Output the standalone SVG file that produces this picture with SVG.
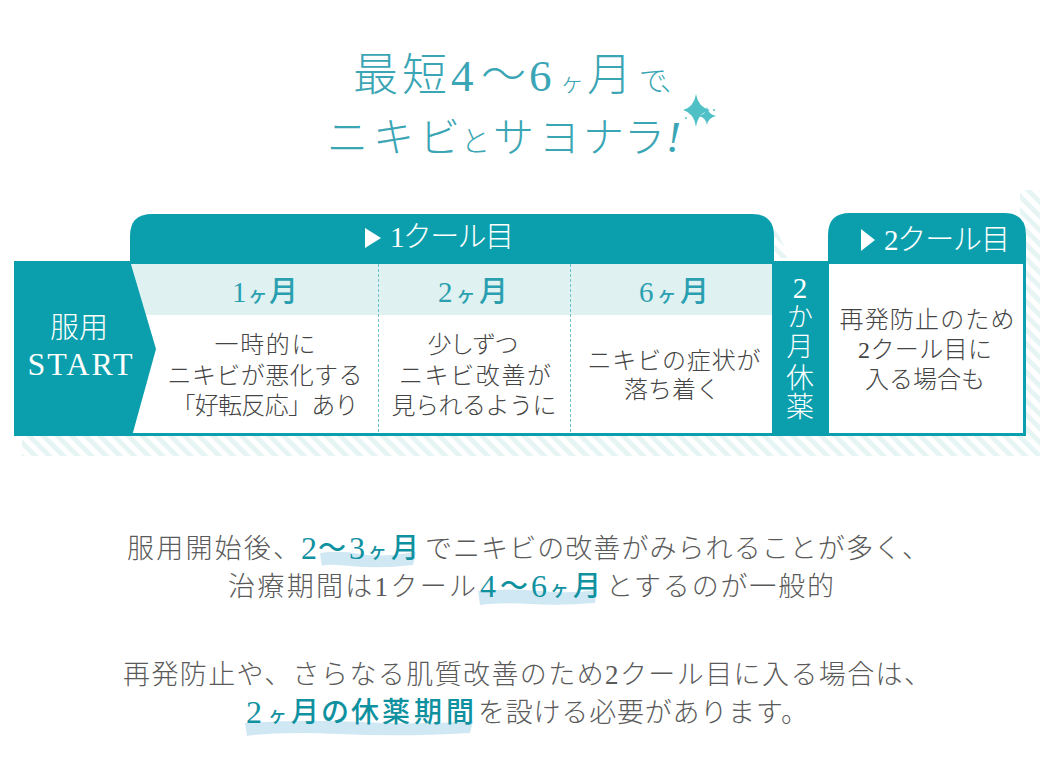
<svg xmlns="http://www.w3.org/2000/svg" width="1040" height="776" viewBox="0 0 1040 776">
<style>
text{font-family:"Liberation Serif","Noto Sans CJK JP",serif;text-anchor:middle;font-weight:300}
.ttl{fill:#3aa5b4;font-size:45px;text-anchor:start}
.kana{font-size:41px}
.wh{fill:#fff}
.tab{font-size:29px}
.mon{fill:#2a9fb0;font-size:29px;font-weight:500}
.cell{fill:#444;font-size:24px}
.body{fill:#5a5a5a;font-size:27px;text-anchor:start}
.em{fill:#10919f;font-size:28px;font-weight:500;text-anchor:start}
.dg{font-size:32px}
.sm{font-size:.68em}
.emk{font-size:19px}
.teal{fill:#0b9fad}
.hl{fill:#cfe8f4}
</style>
<defs>
<pattern id="st" width="10" height="10" patternUnits="userSpaceOnUse" patternTransform="rotate(-45)">
<rect width="10" height="10" fill="#fff"/><rect width="5" height="10" fill="#e6f5f4"/>
</pattern>
</defs>
<rect id="bgw" width="1040" height="776" fill="#fff"/>
<g id="stripes">
<rect x="22" y="430" width="1018" height="26" fill="url(#st)"/>
<rect x="1020" y="190" width="20" height="266" fill="url(#st)"/>
<path d="M774 225L790 258H774Z" fill="url(#st)"/>
</g>
<g id="title">
<text class="ttl" y="91" x="353 402 451 481 529">最短4〜6</text>
<text class="ttl" y="91" x="560" style="font-size:24px">ヶ</text>
<text class="ttl" y="91" x="587">月</text>
<text class="ttl" y="91" x="639 660" style="font-size:28px">で、</text>
<text class="ttl kana" y="152" x="327 373 419">ニキビ</text>
<text class="ttl" y="152" x="461" style="font-size:29px">と</text>
<text class="ttl kana" y="152" x="493 539 583 624">サヨナラ</text>
<text class="ttl" y="152" x="666" font-style="italic">!</text>
<g id="sparkle" fill="#4fc1c6">
<path d="M696 94Q698 107 710 110Q698 113 696 127Q694 113 683 110Q694 107 696 94Z"/>
<path d="M707 107Q708 114 716 116Q708 118 707 125Q706 118 699 116Q706 114 707 107Z"/>
<circle cx="714" cy="110" r="1"/><circle cx="686" cy="118" r="1"/>
</g>
</g>
<g id="tab1"><path class="teal" d="M130 264V236Q130 214 152 214H752Q774 214 774 236V264Z"/>
<path class="wh" d="M365 228L381 238L365 248Z"/>
<text class="wh tab" x="452" y="247" textLength="124">1クール目</text></g>
<g id="tab2"><path class="teal" d="M828 264V235Q828 213 850 213H1004Q1026 213 1026 235V264Z"/>
<path class="wh" d="M861 229L875 240L861 251Z"/>
<text class="wh tab" x="947" y="250" textLength="126">2クール目</text></g>
<g id="frame">
<rect class="teal" x="14" y="261" width="1012" height="175"/>
<rect class="wh" x="130" y="264" width="642" height="169"/>
<rect x="130" y="264" width="642" height="51" fill="#dff1f1"/>
<rect class="wh" x="829" y="264" width="194" height="169"/>
<path d="M378.500 264V433M570.500 264V433" stroke="#6cc3c8" stroke-width="1" stroke-dasharray="3 2" fill="none"/>
</g>
<g id="start"><path class="teal" d="M14 261H130L156 349L132 436H14Z"/>
<text class="wh" x="79" y="338" font-size="29" textLength="58">服用</text>
<text class="wh" x="80" y="375" font-size="32" textLength="105">START</text></g>
<g id="m1"><text class="mon" x="265" y="302" textLength="66">1<tspan class="sm">ヶ</tspan>月</text>
<text class="cell" x="265" y="353" textLength="101">一時的に</text>
<text class="cell" x="265" y="384" textLength="195">ニキビが悪化する</text>
<text class="cell" x="265" y="414" textLength="187">「好転反応」あり</text></g>
<g id="m2"><text class="mon" x="473" y="302" textLength="70">2<tspan class="sm">ヶ</tspan>月</text>
<text class="cell" x="473" y="353" textLength="91">少しずつ</text>
<text class="cell" x="475" y="384" textLength="152">ニキビ改善が</text>
<text class="cell" x="474" y="414" textLength="165">見られるように</text></g>
<g id="m3"><text class="mon" x="674" y="302" textLength="70">6<tspan class="sm">ヶ</tspan>月</text>
<text class="cell" x="674" y="369" textLength="173">ニキビの症状が</text>
<text class="cell" x="672" y="398" textLength="96">落ち着く</text></g>
<g id="rest">
<text class="wh" x="800" y="298" font-size="29">2</text>
<text class="wh" x="800" y="326" font-size="26">か</text>
<text class="wh" x="800" y="356" font-size="27">月</text>
<text class="wh" x="800" y="388" font-size="28">休</text>
<text class="wh" x="800" y="417" font-size="28">薬</text>
</g>
<g id="c2"><text class="cell" x="927" y="328" textLength="175">再発防止のため</text>
<text class="cell" x="925" y="358" textLength="134">2クール目に</text>
<text class="cell" x="925" y="388" textLength="120">入る場合も</text></g>
<g id="highlights">
<path class="hl" d="M320 553Q340 550 360 554T416 552L413 565Q380 569 350 566T322 567Z"/>
<path class="hl" d="M478 591Q510 588 540 591T597 590L595 603Q560 606 530 604T480 605Z"/>
<path class="hl" d="M245 723Q300 719 360 722T473 721L470 733Q400 737 340 734T247 736Z"/>
</g>
<g id="para1">
<text class="body" x="127" y="558" textLength="173">服用開始後、</text>
<text class="em dg" x="301" y="559">2</text>
<text class="em" x="318" y="558">〜</text>
<text class="em dg" x="349" y="559">3</text>
<text class="em emk" x="368" y="558">ヶ</text>
<text class="em" x="391" y="558">月</text>
<text class="body" x="425" y="558" textLength="504">でニキビの改善がみられることが多く、</text>
<text class="body" x="228" y="596" textLength="248">治療期間は1クール</text>
<text class="em dg" x="480" y="597">4</text>
<text class="em" x="500" y="596">〜</text>
<text class="em dg" x="531" y="597">6</text>
<text class="em emk" x="550" y="596">ヶ</text>
<text class="em" x="573" y="596">月</text>
<text class="body" x="606" y="596" textLength="228">とするのが一般的</text>
</g>
<g id="para2">
<text class="body" x="123" y="684" textLength="808">再発防止や、さらなる肌質改善のため2クール目に入る場合は、</text>
<text class="em dg" x="246" y="723">2</text>
<text class="em emk" x="268" y="722">ヶ</text>
<text class="em" x="291 321 351 382 414 446" y="722">月の休薬期間</text>
<text class="body" x="478" y="722" textLength="330">を設ける必要があります。</text>
</g>
</svg>
